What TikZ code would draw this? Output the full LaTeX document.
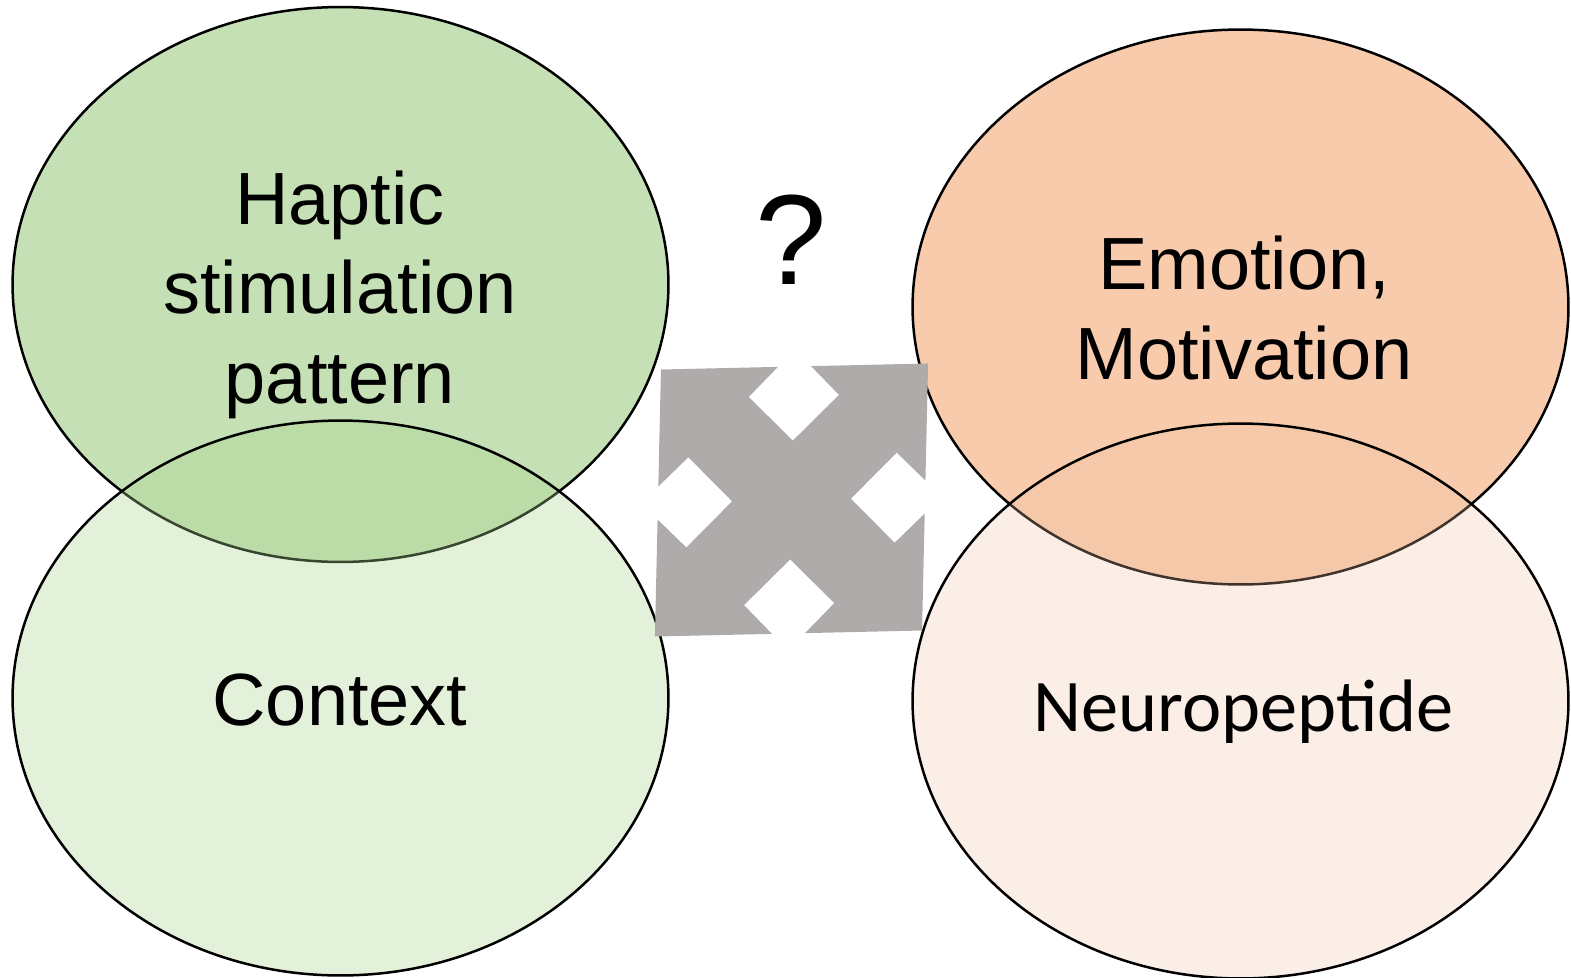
\documentclass[tikz,border=0pt]{standalone}
\usepackage{fontspec}
\setmainfont{Liberation Sans}
\newfontfamily\calibri{Carlito}
\usetikzlibrary{shapes.geometric}

\definecolor{greenhi}{HTML}{C5E0B4}
\definecolor{greenlo}{HTML}{A9D18E}
\definecolor{orangehi}{HTML}{F8CBAD}
\definecolor{orangelo}{HTML}{F0C0A2}
\definecolor{arrowgray}{HTML}{AFABAB}

\begin{document}
\begin{tikzpicture}
  [
    x = 0.02cm, y = -0.02cm,
    blob/.style = {draw, ellipse, line width = 0.05cm, inner sep = 0pt,
                   minimum width = 13.12cm, minimum height = 11.1cm},
    faint/.style = {fill opacity = #1, text opacity = 1},
    word/.style = {align = center, inner sep = 0pt,
                   font = \fontsize{42.1}{51}\selectfont}
  ]
  \useasboundingbox (0,0) rectangle (1571,977);
  % upper ellipses
  \node [blob, fill = greenhi]  (hapticbox)  at (340.5,284.5) {};
  \node [blob, fill = orangehi] (emotionbox) at (1240.5,307) {};
  % lower ellipses, see-through
  \node [blob, fill = greenlo, faint = 0.33]  (contextbox) at (340.5,698) {};
  \node [blob, fill = orangelo, faint = 0.27] (neurobox)   at (1240.5,701) {};
  % four-way arrow
  \fill [arrowgray, shift = {(791.5,500)}, xslant = 0.0225, yslant = 0.0225]
    (-133.5,133.5) -- (-16.5,133.5) -- (-45.1,104.1) -- (0,59.4)
    -- (45.1,104.1) -- (16.5,133.5) -- (133.5,133.5) -- (133.5,16.5)
    -- (104.1,45.1) -- (59.4,0) -- (104.1,-45.1) -- (133.5,-16.5)
    -- (133.5,-133.5) -- (16.5,-133.5) -- (45.1,-104.1) -- (0,-59.4)
    -- (-45.1,-104.1) -- (-16.5,-133.5) -- (-133.5,-133.5) -- (-133.5,-16.5)
    -- (-104.1,-45.1) -- (-59.4,0) -- (-104.1,45.1) -- (-133.5,16.5) -- cycle;
  % texts
  \node [word] (haptic)  at (340,294.7) {Haptic\\stimulation\\pattern};
  \node [word] (emotion) at (1244,308) {Emotion,\\Motivation};
  \node [word] (context) at (340,700) {Context};
  \node [word, font = \calibri\fontsize{42.3}{50}\selectfont]
    (neuro) at (1243.5,711.8) {Neuropeptide};
  \node [word, font = \fontsize{73}{88}\selectfont] (query) at (791.5,240) {?};
\end{tikzpicture}
\end{document}
